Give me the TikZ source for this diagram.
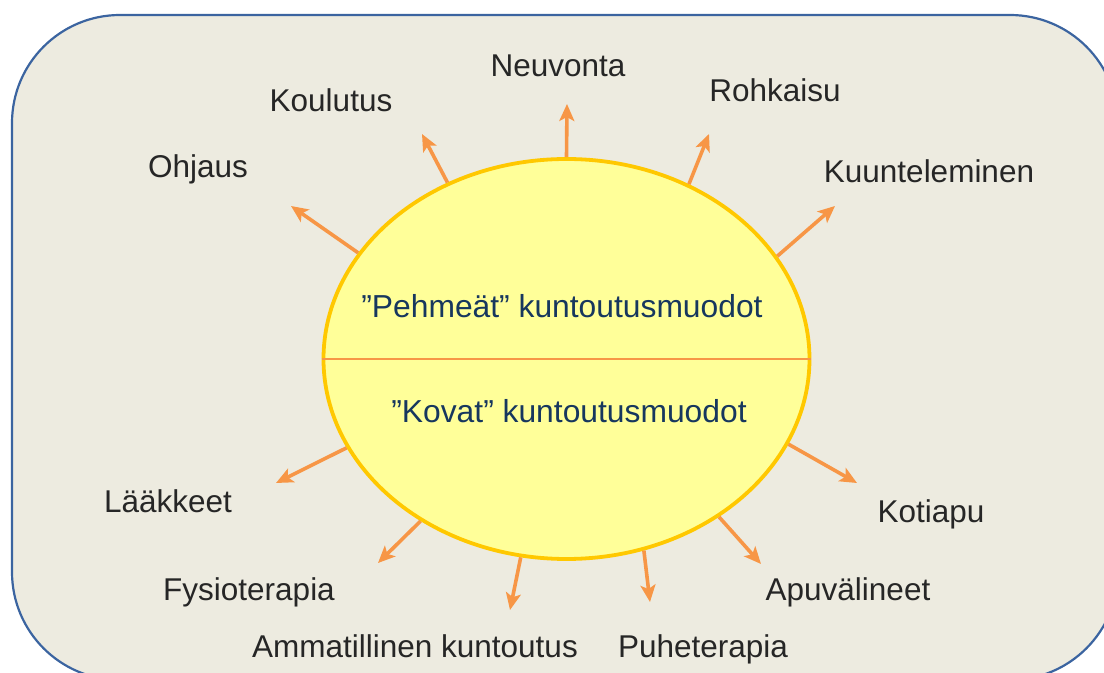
\documentclass[tikz,border=0pt]{standalone}
\usepackage{fontspec}
\setmainfont{Liberation Sans}
\usetikzlibrary{arrows.meta,shapes.geometric}

\definecolor{framefill}{HTML}{EDEBE0}
\definecolor{frameline}{HTML}{3B64A0}
\definecolor{sunfill}{HTML}{FFFF99}
\definecolor{sunline}{HTML}{FFC800}
\definecolor{rayorange}{HTML}{F79646}
\definecolor{labelgray}{HTML}{262626}
\definecolor{innerblue}{HTML}{17375E}

\begin{document}
\begin{tikzpicture}[x=0.5pt, y=-0.5pt]
  % Styles
  \tikzstyle{frame}=[draw=frameline, fill=framefill, line width=1.1pt, rounded corners=54pt]
  \tikzstyle{sun}=[ellipse, draw=sunline, fill=sunfill, line width=1.9pt, minimum width=243pt, minimum height=200pt, inner sep=0pt]
  \tikzstyle{divider}=[draw=rayorange, line width=0.8pt]
  \tikzstyle{ray}=[-{Stealth[length=8.5pt, width=7.5pt, inset=2pt]}, draw=rayorange, line width=1.8pt]
  \tikzstyle{label}=[anchor=base, text=labelgray, inner sep=0pt, font=\fontsize{15.75}{19}\selectfont]
  \tikzstyle{inner}=[anchor=base, text=innerblue, inner sep=0pt, font=\fontsize{15.9}{19}\selectfont]

  \useasboundingbox (0,0) rectangle (1104,673);

  % Background
  \draw[frame] (12,15) rectangle (1118,680);

  % Centre ellipse
  \node[sun] (sun) at (566.5,359) {};
  \draw[divider] (sun.west) -- (sun.east);
  \node[inner] (soft) at (562,318) {”Pehmeät” kuntoutusmuodot};
  \node[inner] (hard) at (569,423) {”Kovat” kuntoutusmuodot};

  % Labels
  \node[label] (ohjaus) at (198,178) {Ohjaus};
  \node[label] (koulutus) at (331,112) {Koulutus};
  \node[label] (neuvonta) at (558,77) {Neuvonta};
  \node[label] (rohkaisu) at (775,102) {Rohkaisu};
  \node[label] (kuuntelu) at (929,183) {Kuunteleminen};
  \node[label] (kotiapu) at (931,523) {Kotiapu};
  \node[label] (apuvalineet) at (848,601) {Apuvälineet};
  \node[label] (puhe) at (703,658) {Puheterapia};
  \node[label] (ammatillinen) at (415,658) {Ammatillinen kuntoutus};
  \node[label] (fysio) at (249,601) {Fysioterapia};
  \node[label] (laakkeet) at (168,513) {Lääkkeet};

  % Arrow tips
  \coordinate (t-ohjaus) at (291,206);
  \coordinate (t-koulutus) at (422,134);
  \coordinate (t-neuvonta) at (567,104);
  \coordinate (t-rohkaisu) at (709,134);
  \coordinate (t-kuuntelu) at (835,206);
  \coordinate (t-kotiapu) at (857,483);
  \coordinate (t-apuvalineet) at (761,564);
  \coordinate (t-puhe) at (650,602);
  \coordinate (t-ammatillinen) at (510,610);
  \coordinate (t-fysio) at (378,563);
  \coordinate (t-laakkeet) at (276,483);

  % Rays
  \draw[ray] (sun.153.3) -- (t-ohjaus);
  \draw[ray] (sun.124.1) -- (t-koulutus);
  \draw[ray] (sun.90) -- (t-neuvonta);
  \draw[ray] (sun.55) -- (t-rohkaisu);
  \draw[ray] (sun.26.1) -- (t-kuuntelu);
  \draw[ray] (sun.-21.1) -- (t-kotiapu);
  \draw[ray] (sun.-46.5) -- (t-apuvalineet);
  \draw[ray] (sun.-68.1) -- (t-puhe);
  \draw[ray] (sun.-103.9) -- (t-ammatillinen);
  \draw[ray] (sun.-132) -- (t-fysio);
  \draw[ray] (sun.-158.9) -- (t-laakkeet);
\end{tikzpicture}
\end{document}
